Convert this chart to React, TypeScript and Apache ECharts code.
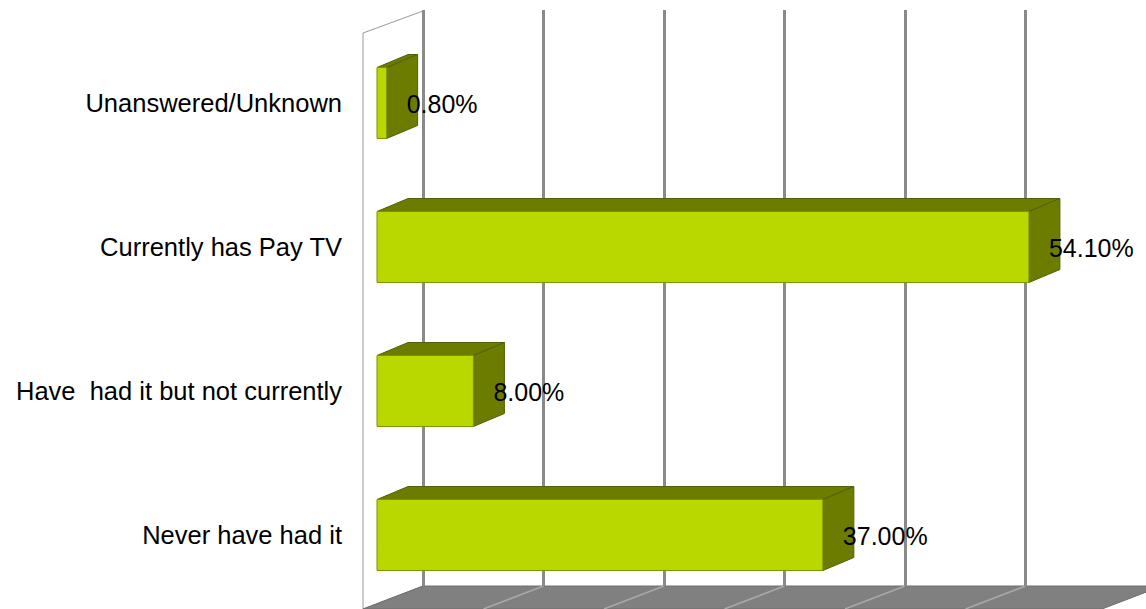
import React, { useEffect, useRef } from "react";
import * as echarts from "echarts";

// Survey answers, top to bottom
const categories = [
  "Unanswered/Unknown",
  "Currently has Pay TV",
  "Have  had it but not currently",
  "Never have had it",
];
// Share of respondents, in percent
const shares = [0.8, 54.1, 8.0, 37.0];
// Value gridlines on the back wall, in percent
const gridTicks = [0, 10, 20, 30, 40, 50, 60];

const FONT = "'Liberation Sans', Arial, Helvetica, sans-serif";
const FRONT = "#b8d800";
const SHADE = "#6b7c00";
const EDGE = "#52600a";
// Oblique projection offset for the bar depth
const DX = 31;
const DY = -13;

const renderBar = (_params: any, api: any) => {
  const v = api.value(0) as number;
  const c = api.value(1) as number;
  const start = api.coord([0, c]);
  const end = api.coord([v, c]);
  const band = api.size([0, 1])[1];
  const h = band * 0.493;
  const x0 = start[0];
  const x1 = end[0];
  const top = end[1] - h / 2;
  const bot = end[1] + h / 2;
  return {
    type: "group",
    children: [
      {
        type: "polygon",
        shape: { points: [[x0, top], [x0 + DX, top + DY], [x1 + DX, top + DY], [x1, top]] },
        style: { fill: SHADE, stroke: EDGE, lineWidth: 1 },
      },
      {
        type: "polygon",
        shape: { points: [[x1, top], [x1 + DX, top + DY], [x1 + DX, bot + DY], [x1, bot]] },
        style: { fill: SHADE, stroke: EDGE, lineWidth: 1 },
      },
      {
        type: "rect",
        shape: { x: x0, y: top, width: Math.max(x1 - x0, 0), height: h },
        style: { fill: FRONT, stroke: "#7e9400", lineWidth: 1 },
      },
      {
        type: "text",
        x: x1 + 20,
        y: end[1] + 1,
        style: {
          text: v.toFixed(2) + "%",
          fontSize: 25,
          fontFamily: FONT,
          fill: "#000",
          align: "left",
          verticalAlign: "middle",
        },
      },
    ],
  };
};

export default function App() {
  const ref = useRef<HTMLDivElement>(null);

  useEffect(() => {
    const chart = echarts.init(ref.current!, null, { renderer: "svg" });
    const lineColors = gridTicks.map((t, i) => (i === gridTicks.length - 1 ? "rgba(0,0,0,0)" : "#8a8a8a"));
    chart.setOption({
      animation: false,
      backgroundColor: "#ffffff",
      grid: [
        { left: 377, top: 31, width: 723, height: 576 },
        { left: 423, top: 10, width: 723, height: 576 },
      ],
      xAxis: [
        { gridIndex: 0, type: "value", min: 0, max: 60, show: false },
        {
          gridIndex: 1,
          type: "value",
          min: gridTicks[0],
          max: gridTicks[gridTicks.length - 1],
          interval: 10,
          axisLine: { show: false },
          axisTick: { show: false },
          axisLabel: { show: false },
          splitLine: { show: true, lineStyle: { color: lineColors, width: 3 } },
        },
      ],
      yAxis: [
        {
          gridIndex: 0,
          type: "category",
          data: categories,
          inverse: true,
          axisLine: { show: false },
          axisTick: { show: false },
          splitLine: { show: false },
          axisLabel: { margin: 35, fontSize: 25.5, color: "#000", fontFamily: FONT },
        },
        { gridIndex: 1, type: "category", data: categories, inverse: true, show: false },
      ],
      series: [
        {
          type: "custom",
          xAxisIndex: 0,
          yAxisIndex: 0,
          data: shares.map((v, i) => [v, i]),
          encode: { x: 0, y: 1 },
          renderItem: renderBar,
          z: 5,
        },
      ],
    });

    // Side wall and floor of the 3D box, placed from the back-wall scale
    const backX = (v: number) => chart.convertToPixel({ xAxisIndex: 1 }, v) as number;
    const wallBack = backX(0);
    const floorBack = 586;
    const floorFront = 609;
    const depthX = 60;
    const floorLines = gridTicks.slice(1, -1).map((t) => ({
      type: "line",
      z: -5,
      shape: { x1: backX(t), y1: floorBack, x2: backX(t) - depthX, y2: floorFront },
      style: { stroke: "#a9a9a9", lineWidth: 1.5 },
    }));
    chart.setOption({
      graphic: [
        {
          type: "polygon",
          z: -20,
          shape: {
            points: [
              [wallBack - depthX, 33],
              [wallBack, 11],
              [wallBack, floorBack],
              [wallBack - depthX, floorFront],
            ],
          },
          style: { fill: "#ffffff", stroke: "#9a9a9a", lineWidth: 1 },
        },
        {
          type: "polygon",
          z: -10,
          shape: {
            points: [
              [wallBack, floorBack],
              [1162, floorBack],
              [1102, floorFront],
              [wallBack - depthX, floorFront],
            ],
          },
          style: { fill: "#808080", stroke: "#6f6f6f", lineWidth: 1 },
        },
        ...floorLines,
      ],
    });

    return () => chart.dispose();
  }, []);

  return (
    <div
      ref={ref}
      style={{ position: "fixed", left: 0, top: 0, width: 1146, height: 609 }}
    />
  );
}
